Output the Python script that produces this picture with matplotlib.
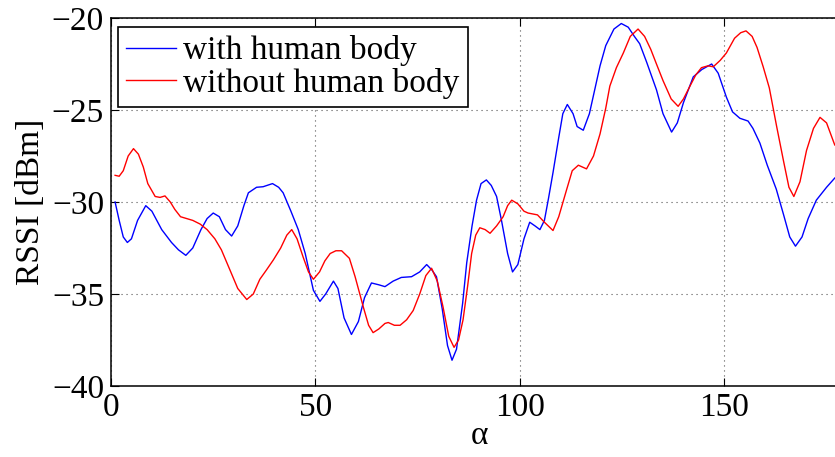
import matplotlib
matplotlib.use("Agg")
import matplotlib.pyplot as plt
from matplotlib.ticker import FuncFormatter

plt.rcParams['font.family'] = ['Liberation Serif', 'DejaVu Serif']
plt.rcParams['mathtext.fontset'] = 'stix'

# ---- data ----
blue_x = [1, 2, 3, 4, 5, 6.5, 8.5, 10, 12.4, 14.8, 16.5, 18.3, 20, 22, 23.5, 25, 26.5, 28,
          29.5, 31, 32.5, 33.6, 35.6, 37.2, 39.5, 41, 42.1, 44, 45.8, 47.5, 49.5, 51.1, 52.5,
          54.4, 55.5, 57, 58.8, 60.5, 62, 63.7, 65.5, 67, 69, 71, 73.5, 75.5, 77.2, 78.5,
          79.6, 81, 82.3, 83.4, 84.5, 86, 87, 88.3, 89.4, 90.5, 91.8, 93, 94.3, 95.5, 97,
          98.2, 99.5, 101, 102.4, 103.7, 104.9, 106, 107, 108.1, 109.5, 110.5, 111.6, 113,
          114, 115.5, 117, 118.5, 119.6, 121, 123, 124.8, 126.5, 128, 129.3, 131, 133.4,
          135, 137.1, 138.5, 140, 142.4, 144.5, 146.9, 148.5, 150.5, 152, 153.8, 155.8, 157,
          158.7, 160.5, 162.7, 164.5, 166, 167.4, 169, 170.5, 172.5, 175, 177]
blue_y = [-30.0, -31.0, -31.9, -32.2, -32.0, -31.0, -30.2, -30.5, -31.5, -32.2, -32.6, -32.9,
          -32.5, -31.5, -30.9, -30.6, -30.8, -31.5, -31.85, -31.3, -30.2, -29.5, -29.2,
          -29.17, -29.0, -29.2, -29.5, -30.5, -31.5, -32.8, -34.8, -35.4, -35.0, -34.3,
          -34.7, -36.3, -37.2, -36.5, -35.2, -34.4, -34.5, -34.6, -34.3, -34.1, -34.06,
          -33.8, -33.4, -33.7, -34.06, -35.8, -37.8, -38.6, -38.0, -35.5, -33.3, -31.3,
          -29.9, -29.0, -28.8, -29.1, -29.7, -31.0, -32.8, -33.8, -33.4, -32.0, -31.1,
          -31.3, -31.5, -31.0, -29.8, -28.4, -26.5, -25.2, -24.7, -25.2, -25.9, -26.1,
          -25.2, -23.7, -22.6, -21.5, -20.6, -20.3, -20.5, -21.0, -21.4, -22.4, -23.9,
          -25.2, -26.2, -25.7, -24.6, -23.2, -22.8, -22.5, -23.0, -24.3, -25.1, -25.45,
          -25.6, -26.0, -26.8, -28.0, -29.3, -30.7, -31.9, -32.4, -31.9, -30.9, -29.9,
          -29.2, -28.7]

red_x = [1, 2, 3, 4.2, 5.5, 6.7, 7.9, 9, 10.8, 12, 13.2, 14.5, 15.6, 17, 18.5, 20, 21.8, 23.5,
         25.4, 27, 29.1, 31, 33.2, 34.8, 36.4, 38, 39.7, 41.5, 43, 44.2, 45.5, 47, 48.3, 49.5,
         51, 52.3, 53.6, 55, 56.4, 58.3, 59.7, 61.7, 63, 64.1, 65.5, 67, 67.8, 69.3, 70.7,
         72.3, 73.9, 75.5, 77, 78.4, 79.8, 81.2, 82.6, 83.9, 85, 86.1, 87.2, 88.2, 89.2,
         90.2, 91.5, 92.7, 94.3, 95.9, 97, 98, 99.5, 101, 102, 104.3, 106, 108.1, 109.5,
         111.4, 112.8, 114.3, 115.3, 116.3, 118, 119.6, 121, 122, 123.6, 125.3, 127, 128.9,
         130.5, 132, 133.4, 135, 137, 138.7, 140, 141.6, 143, 144.4, 146, 147.3, 149, 150.5,
         152.5, 154, 155.3, 156.8, 158, 159.5, 161, 162.8, 164.5, 165.8, 167, 168.5, 170.1,
         171.8, 173.4, 175, 177]
red_y = [-28.55, -28.6, -28.3, -27.5, -27.1, -27.4, -28.1, -29.0, -29.7, -29.75, -29.67,
         -30.0, -30.4, -30.8, -30.9, -31.0, -31.2, -31.5, -32.0, -32.6, -33.7, -34.7, -35.3,
         -35.0, -34.2, -33.7, -33.15, -32.5, -31.8, -31.5, -32.0, -33.0, -33.8, -34.2, -33.8,
         -33.2, -32.8, -32.65, -32.65, -33.06, -34.06, -35.7, -36.7, -37.1, -36.9, -36.6,
         -36.55, -36.7, -36.7, -36.4, -35.9, -35.0, -34.0, -33.6, -34.3, -35.7, -37.3,
         -37.9, -37.5, -36.4, -34.6, -32.8, -31.8, -31.4, -31.5, -31.7, -31.3, -30.8,
         -30.2, -29.9, -30.1, -30.5, -30.6, -30.7, -31.1, -31.55, -30.8, -29.35, -28.3,
         -28.0, -28.1, -28.2, -27.5, -26.3, -24.9, -23.7, -22.7, -21.9, -21.0, -20.6,
         -21.0, -21.7, -22.5, -23.4, -24.4, -24.8, -24.4, -23.7, -23.1, -22.7, -22.6,
         -22.65, -22.3, -21.9, -21.1, -20.8, -20.7, -21.0, -21.6, -22.65, -23.8, -25.9,
         -27.8, -29.2, -29.7, -28.9, -27.2, -26.0, -25.4, -25.7, -26.9]

series_labels = ["with human body", "without human body"]
x_ticks = [0, 50, 100, 150]
y_ticks = [-40, -35, -30, -25, -20]
x_label = "α"
y_label = "RSSI [dBm]"

# ---- figure ----
fig = plt.figure(figsize=(8.35, 4.57), dpi=100)
ax = fig.add_axes([111 / 835, 1 - 386 / 457, 736 / 835, 368 / 457])

ax.plot(blue_x, blue_y, color='#0000ff', lw=1.0, label=series_labels[0],
        solid_joinstyle='round')
ax.plot(red_x, red_y, color='#ff0000', lw=1.0, label=series_labels[1],
        solid_joinstyle='round')

ax.set_xlim(0, 180)
ax.set_ylim(-40, -20)
ax.set_xticks(x_ticks)
ax.set_yticks(y_ticks)
ax.yaxis.set_major_formatter(FuncFormatter(lambda v, p: f"{int(v)}".replace('-', '\u2212')))

ax.grid(True, color='#555555', linestyle=(0, (1, 3.5)), linewidth=0.8)
ax.tick_params(direction='in', length=6, width=0.8, labelsize=24, pad=5,
               top=True, right=True)
for s in ax.spines.values():
    s.set_linewidth(1.1)

ax.set_xlabel(x_label, fontsize=24, labelpad=-2)
ax.set_ylabel(y_label, fontsize=24, labelpad=4)

leg = ax.legend(loc='upper left', bbox_to_anchor=(7 / 736, 1 - 9 / 368),
                borderaxespad=0, fontsize=24, frameon=True, fancybox=False,
                framealpha=1, edgecolor='black', handlelength=1.5,
                handletextpad=0.2, labelspacing=0.05, borderpad=0.25)
leg.get_frame().set_linewidth(1.2)

fig.savefig("out.png", dpi=100)
